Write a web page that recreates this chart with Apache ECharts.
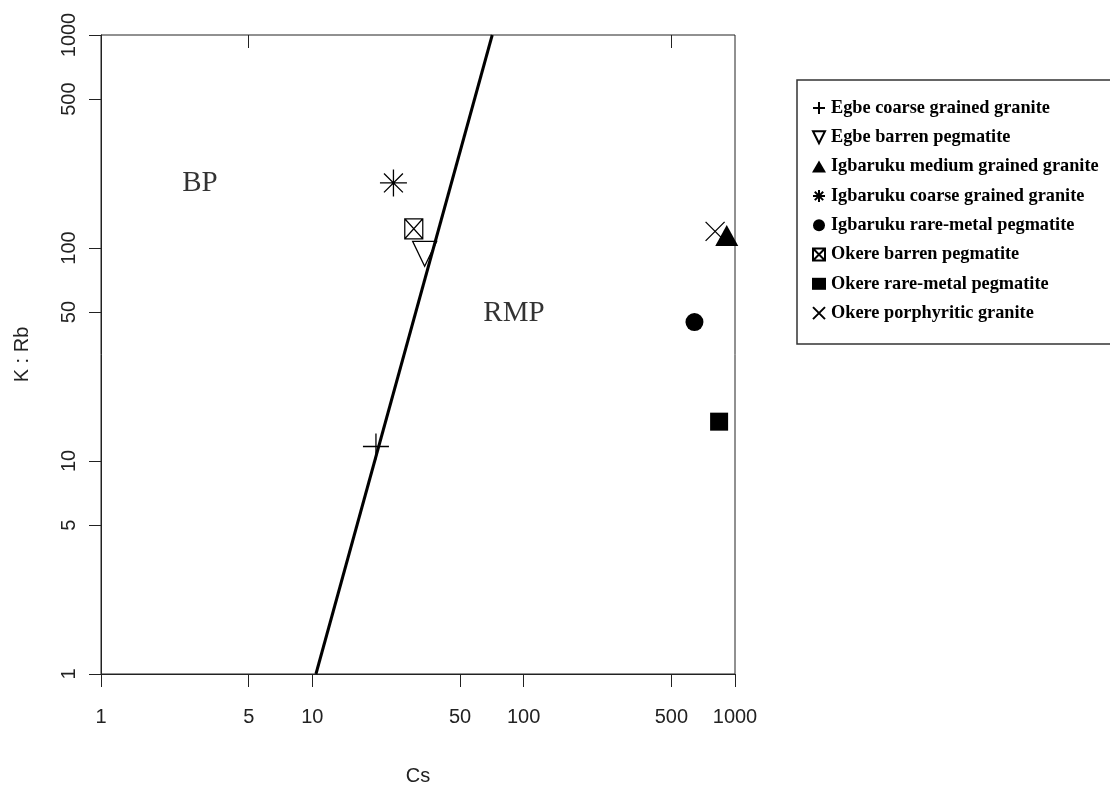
<!DOCTYPE html>
<html>
<head>
<meta charset="utf-8">
<script src="https://cdn.jsdelivr.net/npm/echarts@6/dist/echarts.min.js"></script>
<style>
  html, body { margin: 0; padding: 0; background: #fff; }
  #chart { width: 1110px; height: 791px; }
</style>
</head>
<body>
<div id="chart"></div>
<script>
// ---- data ----
const seriesNames = [
  'Egbe coarse grained granite',
  'Egbe barren pegmatite',
  'Igbaruku medium grained granite',
  'Igbaruku coarse grained granite',
  'Igbaruku rare-metal pegmatite',
  'Okere barren pegmatite',
  'Okere rare-metal pegmatite',
  'Okere porphyritic granite'
];
const csValues  = [20.0, 34.0, 914, 24.2, 643, 30.2, 841, 805];
const kRbValues = [11.7, 93.9, 114.6, 202, 44.9, 123, 15.3, 119.7];
const xTicks = [1, 5, 10, 50, 100, 500, 1000];
const yTicks = [1, 5, 10, 50, 100, 500, 1000];
const topTicks = [5, 500];
const boundaryCs  = [10.4, 71];
const boundaryKRb = [1, 1000];
const fieldLabels = ['BP', 'RMP'];
const fieldCs  = [2.94, 90];
const fieldKRb = [201, 49.3];

// ---- styles ----
const P_PLUS = 'path://M50,0 V100 M0,50 H100';
const P_X = 'path://M0,0 L100,100 M100,0 L0,100';
const P_AST = 'path://M50,0 V100 M0,50 H100 M15,15 L85,85 M85,15 L15,85';
const P_BOXX = 'path://M0,0 H100 V100 H0 Z M0,0 L100,100 M100,0 L0,100';
const P_TRIDOWN = 'path://M0,0 H100 L50,100 Z';
const markerStyles = [
  { symbol: P_PLUS, size: 26, fill: 'transparent', stroke: '#000', bw: 1.3 },
  { symbol: P_TRIDOWN, size: [24, 25], fill: 'transparent', stroke: '#000', bw: 1.3 },
  { symbol: 'triangle', size: [23, 21], fill: '#000', stroke: '#000', bw: 0 },
  { symbol: P_AST, size: 27, fill: 'transparent', stroke: '#000', bw: 1.3 },
  { symbol: 'circle', size: 18, fill: '#000', stroke: '#000', bw: 0 },
  { symbol: P_BOXX, size: [18, 20], fill: 'transparent', stroke: '#000', bw: 1.3 },
  { symbol: 'rect', size: 18, fill: '#000', stroke: '#000', bw: 0 },
  { symbol: P_X, size: 19, fill: 'transparent', stroke: '#000', bw: 1.3 }
];

const axisColor = '#222';
const labelFont = { fontFamily: 'Liberation Sans, Arial, sans-serif', fontSize: 20, color: '#222' };

const series = seriesNames.map((name, i) => ({
  name: name,
  type: 'scatter',
  data: [[csValues[i], kRbValues[i]]],
  symbol: markerStyles[i].symbol,
  symbolSize: markerStyles[i].size,
  itemStyle: {
    color: markerStyles[i].fill,
    borderColor: markerStyles[i].stroke,
    borderWidth: markerStyles[i].bw,
    opacity: 1
  },
  emphasis: { disabled: true },
  z: 5
}));

series.push({
  name: 'boundary',
  type: 'line',
  data: boundaryCs.map((c, i) => [c, boundaryKRb[i]]),
  symbol: 'none',
  lineStyle: { color: '#000', width: 3 },
  emphasis: { disabled: true },
  z: 4
});

series.push({
  name: 'fields',
  type: 'scatter',
  data: fieldLabels.map((t, i) => ({ name: t, value: [fieldCs[i], fieldKRb[i]] })),
  symbolSize: 1,
  itemStyle: { color: 'transparent' },
  label: {
    show: true,
    position: 'inside',
    formatter: p => p.name,
    fontFamily: 'Liberation Serif, Times New Roman, serif',
    fontSize: 29,
    color: '#000'
  },
  emphasis: { disabled: true },
  z: 3
});

const chart = echarts.init(document.getElementById('chart'), null, { renderer: 'canvas' });
chart.setOption({
  animation: false,
  backgroundColor: '#fff',
  grid: {
    left: 101, right: 375, top: 35, bottom: 116,
    show: true, borderColor: axisColor, borderWidth: 1, backgroundColor: 'transparent'
  },
  legend: {
    data: seriesNames,
    orient: 'vertical',
    left: 797,
    top: 80,
    padding: [19, 40, 22, 15],
    itemGap: 11.3,
    itemWidth: 14,
    itemHeight: 12,
    borderColor: '#333',
    borderWidth: 1.5,
    backgroundColor: '#fff',
    selectedMode: false,
    textStyle: {
      fontFamily: 'Liberation Serif, Times New Roman, serif',
      fontWeight: 'bold',
      fontSize: 18.3,
      lineHeight: 18,
      color: '#000'
    }
  },
  xAxis: [
    {
      type: 'log',
      logBase: 10,
      min: 1,
      max: 1000,
      position: 'bottom',
      name: 'Cs',
      nameLocation: 'middle',
      nameGap: 92,
      nameTextStyle: labelFont,
      axisLine: { show: true, lineStyle: { color: axisColor, width: 1 } },
      axisTick: { show: true, inside: false, length: 13, lineStyle: { color: axisColor, width: 1 }, customValues: xTicks },
      axisLabel: { show: true, margin: 33, customValues: xTicks, formatter: v => String(v), ...labelFont },
      splitLine: { show: false },
      minorTick: { show: false }
    },
    {
      type: 'log',
      logBase: 10,
      min: 1,
      max: 1000,
      position: 'top',
      axisLine: { show: false },
      axisTick: { show: true, inside: true, length: 13, lineStyle: { color: axisColor, width: 1 }, customValues: topTicks },
      axisLabel: { show: false },
      splitLine: { show: false }
    }
  ],
  yAxis: {
    type: 'log',
    logBase: 10,
    min: 1,
    max: 1000,
    name: 'K : Rb',
    nameLocation: 'middle',
    nameRotate: 90,
    nameGap: 69,
    nameTextStyle: labelFont,
    axisLine: { show: true, lineStyle: { color: axisColor, width: 1 } },
    axisTick: { show: true, inside: false, length: 12, lineStyle: { color: axisColor, width: 1 }, customValues: yTicks },
    axisLabel: { show: true, rotate: 90, margin: 22, customValues: yTicks, formatter: v => String(v), ...labelFont },
    splitLine: { show: false },
    minorTick: { show: false }
  },
  series: series
});
</script>
</body>
</html>
